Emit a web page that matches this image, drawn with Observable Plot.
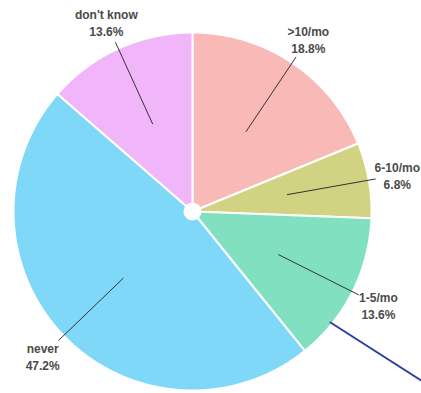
<!DOCTYPE html>
<html><head><meta charset="utf-8">
<script src="https://cdn.jsdelivr.net/npm/d3@7"></script>
<script src="https://cdn.jsdelivr.net/npm/@observablehq/plot@0.6"></script>
<style>body{margin:0;background:#fff}</style>
</head><body><div id="chart"></div>
<script>
const categories = [">10/mo", "6-10/mo", "1-5/mo", "never", "don't know"];
const shares = [18.8, 6.8, 13.6, 47.2, 13.6];
const pctLabels = ["18.8%", "6.8%", "13.6%", "47.2%", "13.6%"];
const colors = ["#f9bab7", "#d1d282", "#80e0c0", "#80d8f9", "#f0b6f9"];
// stray blue segment (relative to pie centre)
const extraLineX = [138, 260];
const extraLineY = [111, 189];

const W = 421, H = 393, cx = 192, cy = 211, R = 179;
const total = d3.sum(shares);
let acc = 0;
const slices = categories.map((c, i) => {
  const a0 = acc / total * 2 * Math.PI; acc += shares[i];
  const a1 = acc / total * 2 * Math.PI;
  return {c, i, a0, a1, mid: (a0 + a1) / 2, label: c + "\n" + pctLabels[i]};
});
function polyFor(s) {
  const p = [{x: 0, y: 0}];
  const n = Math.max(4, Math.ceil((s.a1 - s.a0) / 0.01));
  for (let k = 0; k <= n; k++) {
    const a = s.a0 + (s.a1 - s.a0) * k / n;
    p.push({x: R * Math.sin(a), y: -R * Math.cos(a)});
  }
  return p;
}
const polar = (r, a) => ({x: r * Math.sin(a), y: -r * Math.cos(a)});
const leaders = slices.map(s => {
  const p1 = polar(96, s.mid), p2 = polar(186, s.mid);
  return {x1: p1.x, y1: p1.y, x2: p2.x, y2: p2.y};
});
const labelPts = slices.map(s => ({...polar(208, s.mid), label: s.label}));

const chart = Plot.plot({
  width: W, height: H, margin: 0,
  x: {domain: [-cx, W - cx], range: [0, W], axis: null},
  y: {domain: [-cy, H - cy], range: [0, H], axis: null},
  style: {fontFamily: "'Liberation Sans', Arial, sans-serif", background: "#fff"},
  marks: [
    ...slices.map(s => Plot.line(polyFor(s), {x: "x", y: "y", fill: colors[s.i], stroke: "white", strokeWidth: 2, curve: "linear-closed"})),
    Plot.dot([{x: 0, y: 0}], {x: "x", y: "y", r: 9, fill: "white", stroke: "none"}),
    Plot.link(leaders, {x1: "x1", y1: "y1", x2: "x2", y2: "y2", stroke: "#333", strokeWidth: 1}),
    Plot.line(extraLineX.map((x, i) => ({x, y: extraLineY[i]})), {x: "x", y: "y", stroke: "#2b3fa0", strokeWidth: 2}),
    Plot.text(labelPts, {x: "x", y: "y", text: "label", fontSize: 12, fontWeight: "bold", fill: "#4a4a4a", lineHeight: 1.45, lineAnchor: "middle", textAnchor: "middle"})
  ]
});
document.getElementById("chart").appendChild(chart);
</script>
</body></html>
